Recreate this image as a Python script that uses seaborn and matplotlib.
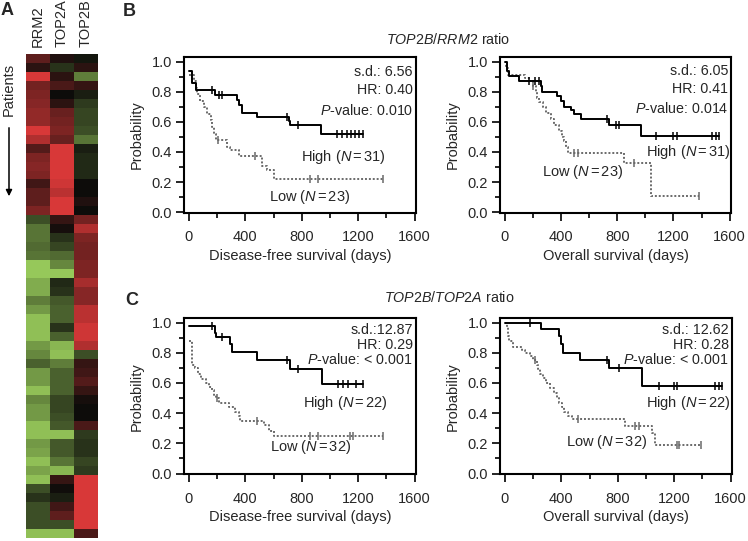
import numpy as np
import pandas as pd
import matplotlib
matplotlib.use("Agg")
import matplotlib.pyplot as plt
import seaborn as sns
from matplotlib.colors import LinearSegmentedColormap
from matplotlib.ticker import MultipleLocator, FormatStrFormatter

sns.set_style("ticks")
plt.rcParams["font.family"] = ["Liberation Sans", "DejaVu Sans"]
plt.rcParams["mathtext.fontset"] = "custom"
plt.rcParams["mathtext.rm"] = "Liberation Sans"
plt.rcParams["mathtext.it"] = "Liberation Sans:italic"
plt.rcParams["mathtext.bf"] = "Liberation Sans:bold"

# ---------------- heatmap data (A) ----------------
genes = ["RRM2", "TOP2A", "TOP2B"]
rrm2 = [0.4, 0.15, 1.0, 0.5, 0.55, 0.6, 0.65, 0.65, 1.0, 0.8, 0.35, 0.55, 0.6,
        0.55, 0.25, 0.4, 0.4, 0.55, -0.35, -0.55, -0.55, -0.5, -0.55, -1.0, -1.0, -0.85, -0.85,
        -0.6, -0.75, -0.95, -0.95, -0.95, -0.75, -0.65, -0.45, -0.75, -0.75, -0.95, -0.65, -0.75,
        -0.75, -0.95, -0.95, -0.75, -0.8, -0.95, -0.8, -0.95, -0.35, -0.2, -0.35, -0.35, -0.35, -0.95]
top2a = [0.1, -0.2, 0.15, 0.3, 0.0, 0.15, 0.45, 0.5, 0.55, 0.45, 1.0, 1.0, 1.0,
         1.0, 0.95, 0.85, 1.0, 1.0, 0.2, 0.05, -0.2, -0.3, -0.5, -0.65, -1.0, -0.15, -0.2,
         -0.4, -0.45, -0.45, -0.2, -0.45, -0.9, -0.95, -0.6, -0.45, -0.45, -0.45, -0.3, -0.3,
         -0.35, -0.4, -0.95, -0.4, -0.4, -0.55, -0.9, 0.2, 0.02, -0.1, 0.25, 0.4, -0.35, -0.95]
top2b = [-0.05, 0.15, -0.6, 0.2, -0.1, -0.25, -0.3, -0.3, -0.35, -0.55, -0.1, -0.15, -0.15,
         -0.15, 0.0, 0.0, 0.1, 0.0, 0.5, 0.8, 0.55, 0.5, 0.5, 0.55, 0.55, 0.75, 0.6,
         0.6, 0.85, 0.85, 0.95, 0.95, 0.8, -0.35, 0.2, 0.25, 0.35, 0.2, 0.05, 0.0,
         0.0, 0.3, -0.25, -0.2, -0.2, -0.3, -0.25, 1.0, 1.0, 1.0, 1.0, 1.0, 1.0, 0.3]

# ---------------- Kaplan-Meier data ----------------
# B: TOP2B/RRM2 ratio, disease-free survival
b_dfs_high_t = [0, 24, 47, 188, 341, 358, 375, 482, 706, 718, 934]
b_dfs_high_s = [0.94, 0.855, 0.81, 0.775, 0.742, 0.71, 0.66, 0.63, 0.605, 0.58, 0.52]
b_dfs_high_c = [165, 212, 234, 692, 776, 1047, 1082, 1118, 1146, 1176, 1207, 1231]
b_dfs_low_t = [0, 35, 47, 59, 78, 110, 129, 153, 165, 181, 195, 271, 294, 353, 518, 553, 600]
b_dfs_low_s = [0.913, 0.87, 0.826, 0.783, 0.739, 0.696, 0.652, 0.609, 0.565, 0.522, 0.478,
               0.435, 0.41, 0.37, 0.31, 0.28, 0.22]
b_dfs_low_c = [205, 470, 859, 918, 1376]
# B: overall survival
b_os_high_t = [0, 14, 30, 102, 256, 265, 374, 398, 422, 469, 493, 540, 742, 967]
b_os_high_s = [1.0, 0.935, 0.905, 0.87, 0.835, 0.80, 0.77, 0.735, 0.70, 0.68, 0.65, 0.62, 0.58, 0.505]
b_os_high_c = [173, 215, 244, 730, 789, 813, 1074, 1199, 1228, 1472, 1500, 1524]
b_os_low_t = [0, 10, 19, 140, 173, 197, 220, 232, 244, 268, 292, 327, 351, 386, 410, 422, 434, 446,
              848, 1038]
b_os_low_s = [1.0, 0.957, 0.913, 0.89, 0.87, 0.84, 0.80, 0.76, 0.73, 0.70, 0.66, 0.62, 0.58, 0.54,
              0.50, 0.47, 0.43, 0.39, 0.33, 0.11]
b_os_low_c = [200, 493, 517, 920, 1382]
# C: TOP2B/TOP2A ratio, disease-free survival
c_dfs_high_t = [0, 188, 195, 294, 306, 482, 718, 941]
c_dfs_high_s = [0.977, 0.93, 0.905, 0.86, 0.805, 0.755, 0.69, 0.59]
c_dfs_high_c = [165, 235, 694, 776, 1059, 1094, 1129, 1188, 1235]
c_dfs_low_t = [0, 24, 40, 64, 82, 118, 141, 165, 176, 190, 212, 282, 330, 353, 365, 529, 565, 600]
c_dfs_low_s = [0.875, 0.72, 0.70, 0.66, 0.625, 0.60, 0.575, 0.55, 0.52, 0.50, 0.47, 0.44, 0.41,
               0.38, 0.35, 0.32, 0.285, 0.25]
c_dfs_low_c = [200, 482, 859, 918, 1141, 1165, 1376]
# C: overall survival
c_os_high_t = [0, 256, 386, 398, 415, 533, 735, 972]
c_os_high_s = [1.0, 0.955, 0.91, 0.86, 0.80, 0.75, 0.70, 0.58]
c_os_high_c = [178, 723, 806, 1090, 1197, 1221, 1489, 1517, 1536]
c_os_low_t = [0, 12, 20, 24, 30, 59, 119, 140, 178, 200, 225, 237, 249, 270, 290, 320, 345, 367,
              380, 403, 420, 450, 474, 853, 1043, 1067]
c_os_low_s = [1.0, 0.97, 0.94, 0.91, 0.875, 0.84, 0.82, 0.80, 0.78, 0.75, 0.72, 0.69, 0.66, 0.63,
              0.60, 0.565, 0.535, 0.50, 0.47, 0.44, 0.41, 0.38, 0.36, 0.315, 0.27, 0.19]
c_os_low_c = [213, 517, 924, 948, 1221, 1232, 1387]

panels = [
    dict(high=(b_dfs_high_t, b_dfs_high_s, b_dfs_high_c), low=(b_dfs_low_t, b_dfs_low_s, b_dfs_low_c),
         stats=["s.d.: 6.56", "HR: 0.40", "$P$-value: 0.010"], n_high=31, n_low=23,
         xlabel="Disease-free survival (days)", high_pos=(1095, 0.369), low_pos=(854, 0.103)),
    dict(high=(b_os_high_t, b_os_high_s, b_os_high_c), low=(b_os_low_t, b_os_low_s, b_os_low_c),
         stats=["s.d.: 6.05", "HR: 0.41", "$P$-value: 0.014"], n_high=31, n_low=23,
         xlabel="Overall survival (days)", high_pos=(1302, 0.402), low_pos=(553, 0.269)),
    dict(high=(c_dfs_high_t, c_dfs_high_s, c_dfs_high_c), low=(c_dfs_low_t, c_dfs_low_s, c_dfs_low_c),
         stats=["s.d.:12.87", "HR: 0.29", "$P$-value: < 0.001"], n_high=22, n_low=32,
         xlabel="Disease-free survival (days)", high_pos=(1105, 0.464), low_pos=(866, 0.175)),
    dict(high=(c_os_high_t, c_os_high_s, c_os_high_c), low=(c_os_low_t, c_os_low_s, c_os_low_c),
         stats=["s.d.: 12.62", "HR: 0.28", "$P$-value: < 0.001"], n_high=22, n_low=32,
         xlabel="Overall survival (days)", high_pos=(1302, 0.464), low_pos=(719, 0.21)),
]

W, H = 748, 541
fig = plt.figure(figsize=(W / 100, H / 100), dpi=100)


def px_axes(x0, y0, x1, y1):
    return fig.add_axes([x0 / W, 1 - y1 / H, (x1 - x0) / W, (y1 - y0) / H])


# ---------------- heatmap ----------------
hm = pd.DataFrame({"RRM2": rrm2, "TOP2A": top2a, "TOP2B": top2b})[genes]
cmap = LinearSegmentedColormap.from_list("gkr", ["#96c85a", "#0c0c0a", "#d83838"])
axh = px_axes(26, 54, 98, 538)
sns.heatmap(hm, ax=axh, cmap=cmap, vmin=-1, vmax=1, cbar=False,
            xticklabels=genes, yticklabels=False)
axh.xaxis.tick_top()
axh.set_xticklabels(genes, rotation=90, fontsize=10.5, va="bottom")
axh.tick_params(axis="x", length=0, pad=5)
axh.set_xlabel("")
axh.set_ylabel("")

fig.text(1 / W, 1 - 2 / H, "A", fontsize=13, fontweight="bold", ha="left", va="top")
fig.text(123 / W, 1 - 3 / H, "B", fontsize=13, fontweight="bold", ha="left", va="top")
fig.text(125 / W, 1 - 292 / H, "C", fontsize=13, fontweight="bold", ha="left", va="top")
fig.text(9 / W, 1 - 89 / H, "Patients", rotation=90, ha="center", va="center", fontsize=10.5)
fig.patches.append(matplotlib.patches.FancyArrowPatch(
    (9 / W, 1 - 125 / H), (9 / W, 1 - 199 / H), transform=fig.transFigure,
    arrowstyle="-|>", mutation_scale=9, lw=1.1, color="black"))

fig.text(448 / W, 1 - 40 / H, r"$\mathit{TOP2B/RRM2}$ ratio", ha="center", va="center", fontsize=10.3)
fig.text(449 / W, 1 - 298 / H, r"$\mathit{TOP2B/TOP2A}$ ratio", ha="center", va="center", fontsize=10.3)

boxes = [(184, 57, 416, 213), (500, 57, 731, 213), (184, 318, 416, 474.3), (500, 318, 732, 474.3)]
stat_y = [[0.906, 0.788, 0.66], [0.912, 0.795, 0.673], [0.922, 0.826, 0.735], [0.922, 0.826, 0.735]]

solid_col = "black"
dot_col = "#6a6a6a"

for p, box, sy in zip(panels, boxes, stat_y):
    ax = px_axes(*box)
    for key, col, ls in (("low", dot_col, (0, (1, 1))), ("high", solid_col, "-")):
        t, s, c = p[key]
        end = max(max(c), t[-1])
        tt = list(t) + [end]
        ss = list(s) + [s[-1]]
        df = pd.DataFrame({"t": tt, "s": ss})
        sns.lineplot(data=df, x="t", y="s", ax=ax, drawstyle="steps-post", estimator=None,
                     sort=False, color=col, lw=1.4, linestyle=ls)
        c = np.asarray(c, float)
        idx = np.searchsorted(np.asarray(t, float), c, side="right") - 1
        cy = np.asarray(s)[idx]
        ax.plot(c, cy, linestyle="none", marker="|", ms=6, mew=1.1, color=col)
    ax.set_xlim(-35, 1610)
    ax.set_ylim(-0.005, 1.03)
    ax.xaxis.set_major_locator(MultipleLocator(400))
    ax.xaxis.set_minor_locator(MultipleLocator(200))
    ax.yaxis.set_major_locator(MultipleLocator(0.2))
    ax.yaxis.set_minor_locator(MultipleLocator(0.1))
    ax.yaxis.set_major_formatter(FormatStrFormatter("%.1f"))
    ax.tick_params(which="major", length=5.5, width=1.2, labelsize=10.5, color="black")
    ax.tick_params(which="minor", length=3.5, width=1.2, color="black")
    ax.tick_params(axis="y", which="major", pad=3)
    ax.tick_params(axis="x", which="major", pad=7)
    for sp in ax.spines.values():
        sp.set_visible(True)
        sp.set_linewidth(1.5)
        sp.set_color("black")
    ax.set_xlabel(p["xlabel"], fontsize=10.5, labelpad=3)
    ax.set_ylabel("Probability", fontsize=10.5, labelpad=6)
    for txt, yy in zip(p["stats"], sy):
        ax.text(0.987, yy, txt, transform=ax.transAxes, ha="right", va="center", fontsize=10.3)
    ax.text(*p["high_pos"], r"High ($N\,$=$\,$%d)" % p["n_high"], ha="center", va="center", fontsize=10.5)
    ax.text(*p["low_pos"], r"Low ($N\,$=$\,$%d)" % p["n_low"], ha="center", va="center", fontsize=10.5)

fig.savefig("out.png", dpi=100)
